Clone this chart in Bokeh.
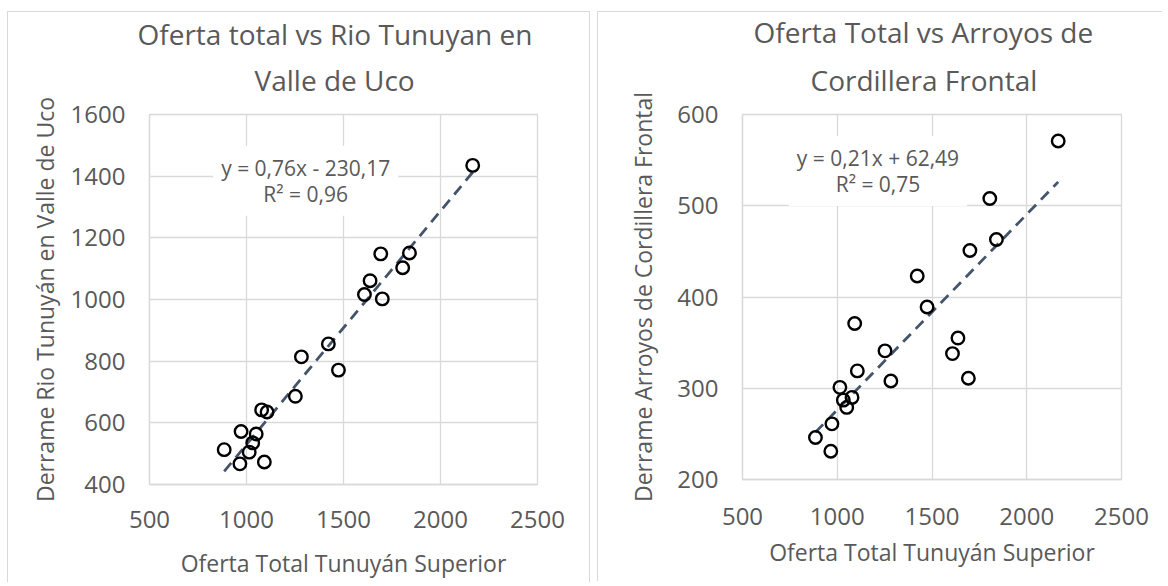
import numpy as np
from bokeh.plotting import figure
from bokeh.models import Label, FixedTicker, Range1d, Title
from bokeh.layouts import row
from bokeh.embed import file_html
from bokeh.resources import INLINE

# ---- data ----
oferta_total = [885, 966, 972, 1014, 1032, 1050, 1078, 1092, 1106, 1252,
                1283, 1422, 1474, 1608, 1637, 1692, 1700, 1805, 1840, 2166]
derrame_tunuyan = [513, 467, 572, 505, 535, 564, 642, 473, 635, 686,
                   814, 856, 771, 1016, 1061, 1148, 1002, 1103, 1151, 1435]
derrame_arroyos = [246, 231, 261, 301, 287, 279, 290, 371, 319, 341,
                   308, 423, 389, 338, 355, 311, 451, 508, 463, 571]

x_ticks = [500, 1000, 1500, 2000, 2500]
y_ticks_left = [400, 600, 800, 1000, 1200, 1400, 1600]
y_ticks_right = [200, 300, 400, 500, 600]

title_left = ["Oferta total vs Rio Tunuyan en", "Valle de Uco"]
title_right = ["Oferta Total vs Arroyos de", "Cordillera Frontal"]
eq_left = "y = 0,76x - 230,17\nR² = 0,96"
eq_right = "y = 0,21x + 62,49\nR² = 0,75"
x_title = "Oferta Total Tunuyán Superior"
y_title_left = "Derrame Rio Tunuyán en Valle de Uco"
y_title_right = "Derrame Arroyos de Cordillera Frontal"

FONT = "Open Sans"
TXT = "#595959"
GRID = "#d9d9d9"
TREND = "#44546A"


def make(ys, yticks, titles, eq, eq_pos, ytitle, fw, fh, mbl, mbr, mbt, mbb,
         xl_standoff, xt_standoff, yt_standoff, t_standoffs, t_offsets,
         styles, margin):
    p = figure(output_backend="svg", toolbar_location=None,
               frame_width=fw, frame_height=fh,
               min_border_left=mbl, min_border_right=mbr,
               min_border_top=mbt, min_border_bottom=mbb,
               x_range=Range1d(x_ticks[0], x_ticks[-1]),
               y_range=Range1d(yticks[0], yticks[-1]),
               styles=styles, margin=margin)
    p.background_fill_color = "white"
    p.border_fill_color = "white"
    p.outline_line_color = GRID
    p.outline_line_width = 1.3

    for ax in (p.xaxis, p.yaxis):
        ax.axis_line_color = GRID
        ax.axis_line_width = 1.3
        ax.major_tick_line_color = None
        ax.minor_tick_line_color = None
        ax.major_tick_out = 0
        ax.major_tick_in = 0
        ax.major_label_text_font = FONT
        ax.major_label_text_font_size = "24px"
        ax.major_label_text_color = TXT
        ax.axis_label_text_font = FONT
        ax.axis_label_text_font_size = "23px"
        ax.axis_label_text_font_style = "normal"
        ax.axis_label_text_color = TXT
    p.xaxis.ticker = FixedTicker(ticks=x_ticks)
    p.yaxis.ticker = FixedTicker(ticks=yticks)
    p.xaxis.major_label_standoff = xl_standoff
    p.yaxis.major_label_standoff = 24
    p.xaxis.axis_label = x_title
    p.yaxis.axis_label = ytitle
    p.xaxis.axis_label_standoff = xt_standoff
    p.yaxis.axis_label_standoff = yt_standoff

    p.xgrid.ticker = FixedTicker(ticks=x_ticks)
    p.ygrid.ticker = FixedTicker(ticks=yticks)
    for g in (p.xgrid, p.ygrid):
        g.grid_line_color = GRID
        g.grid_line_width = 1.3

    # linear trendline from the data
    xs = np.array(oferta_total, dtype=float)
    yv = np.array(ys, dtype=float)
    m, b = np.polyfit(xs, yv, 1)
    tx = [xs.min(), xs.max()]
    p.line(tx, [m * t + b for t in tx], line_color=TREND, line_width=2.8,
           line_dash="11 7")

    p.scatter(oferta_total, ys, size=12.5, marker="circle", line_color="black",
              line_width=2.4, fill_color=None)

    p.add_layout(Label(x=eq_pos[0], y=eq_pos[1], text=eq, text_align="center",
                       text_baseline="middle", text_font=FONT,
                       text_font_size="21px", text_color=TXT,
                       text_line_height=0.93,
                       background_fill_color="white", padding=8))

    # two-line chart title: second line nearest the frame
    valigns = ("top", "bottom")
    for t, s, o, va in zip(reversed(titles), t_standoffs, t_offsets, valigns):
        p.add_layout(Title(text=t, align="left", offset=o, standoff=s,
                           vertical_align=va,
                           text_font=FONT, text_font_size="28px",
                           text_line_height=1.0,
                           text_font_style="normal", text_color=TXT), "above")
    return p


border = "1.5px solid #d9d9d9"
p1 = make(derrame_tunuyan, y_ticks_left, title_left, eq_left, (1305, 1385),
          y_title_left, fw=386, fh=369, mbl=141, mbr=54, mbt=95, mbb=104,
          xl_standoff=26, xt_standoff=16, yt_standoff=7,
          t_standoffs=(26.5, -10.5), t_offsets=(105, -12),
          styles={"border-left": border, "border-top": border,
                  "border-right": border},
          margin=(11, 0, 0, 7))
p2 = make(derrame_arroyos, y_ticks_right, title_right, eq_right, (1215, 538),
          y_title_right, fw=378, fh=364, mbl=144, mbr=42, mbt=101, mbb=103,
          xl_standoff=28, xt_standoff=8, yt_standoff=15,
          t_standoffs=(25.5, -4), t_offsets=(68, 11),
          styles={"border-left": border, "border-top": border},
          margin=(11, 0, 0, 7))

layout = row(p1, p2)
open("out.html", "w").write(file_html(layout, INLINE))
